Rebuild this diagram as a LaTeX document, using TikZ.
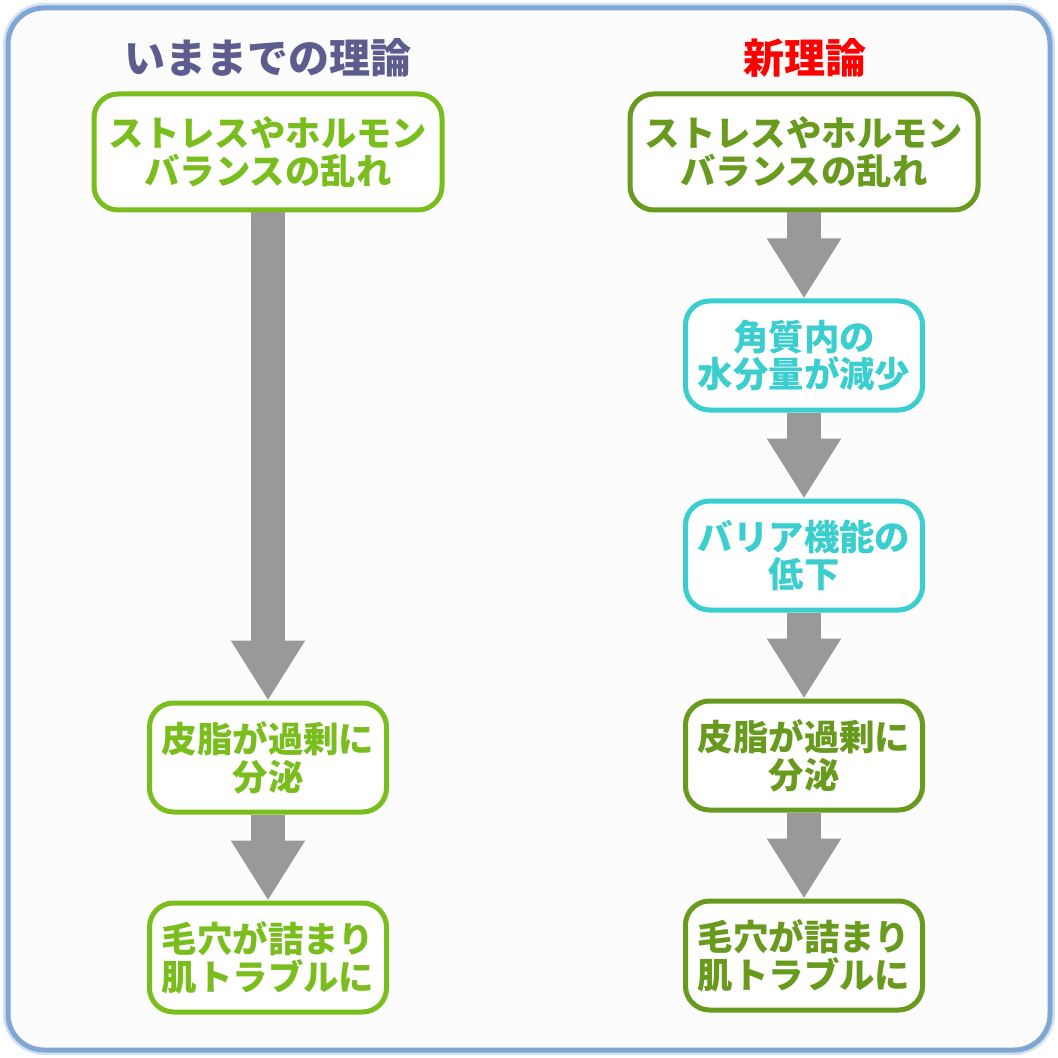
\documentclass[tikz,border=0pt]{standalone}
\usepackage{fontspec}
\newfontfamily\jpfont{Noto Sans CJK JP}
\usetikzlibrary{positioning,arrows.meta}
\definecolor{oldgreen}{RGB}{122,190,30}
\definecolor{newgreen}{RGB}{104,154,30}
\definecolor{waterc}{RGB}{58,206,206}
\definecolor{oldtitle}{RGB}{92,92,142}
\definecolor{arrowgray}{RGB}{153,153,153}
\definecolor{framebl}{RGB}{128,166,212}
\definecolor{bgpaper}{RGB}{252,252,252}

\begin{document}
\begin{tikzpicture}[x=0.5pt,y=-0.5pt,
                  box/.style={draw,line width=2.5pt,rounded corners=12pt,fill=white,align=center,inner sep=2pt,
                    font=\jpfont\bfseries\fontsize{17.7}{18.8}\selectfont},
                  wide/.style={box,minimum width=174pt,minimum height=58pt},
                  narrow/.style={box,minimum width=118.5pt,minimum height=54.5pt},
                  ttl/.style={font=\jpfont\bfseries\fontsize{20.5}{22}\selectfont},
                  arr/.style={draw=arrowgray,line width=17pt,-{Triangle[width=35pt,length=30pt]}}
                ]
                \useasboundingbox (0,0) rectangle (1058,1058);
                \fill[white] (0,0) rectangle (1058,1058);
                \draw[framebl!35,line width=5pt,rounded corners=18pt] (8,8) rectangle (1050,1050);
                \draw[framebl,line width=2.5pt,rounded corners=18pt,fill=bgpaper] (8,8) rectangle (1050,1050);

                % old theory
                \node[ttl,text=oldtitle] (oldttl) at (268,58) {いままでの理論};
                \node[wide,draw=oldgreen,text=oldgreen] (old1) at (268,152) {ストレスやホルモン\\バランスの乱れ};
                \node[narrow,draw=oldgreen,text=oldgreen,below=244pt of old1] (old2) {皮脂が過剰に\\分泌};
                \node[narrow,draw=oldgreen,text=oldgreen,below=43pt of old2] (old3) {毛穴が詰まり\\肌トラブルに};

                % new theory
                \node[ttl,text=red] (newttl) at (805,58) {新理論};
                \node[wide,draw=newgreen,text=newgreen] (new1) at (804,152) {ストレスやホルモン\\バランスの乱れ};
                \node[narrow,draw=waterc,text=waterc,below=43pt of new1] (new2) {角質内の\\水分量が減少};
                \node[narrow,draw=waterc,text=waterc,below=43pt of new2] (new3) {バリア機能の\\低下};
                \node[narrow,draw=newgreen,text=newgreen,below=43pt of new3] (new4) {皮脂が過剰に\\分泌};
                \node[narrow,draw=newgreen,text=newgreen,below=43pt of new4] (new5) {毛穴が詰まり\\肌トラブルに};

                \draw[arr] (old1.south) -- (old2.north);
                \draw[arr] (old2.south) -- (old3.north);
                \draw[arr] (new1.south) -- (new2.north);
                \draw[arr] (new2.south) -- (new3.north);
                \draw[arr] (new3.south) -- (new4.north);
                \draw[arr] (new4.south) -- (new5.north);
                \end{tikzpicture}
\end{document}
